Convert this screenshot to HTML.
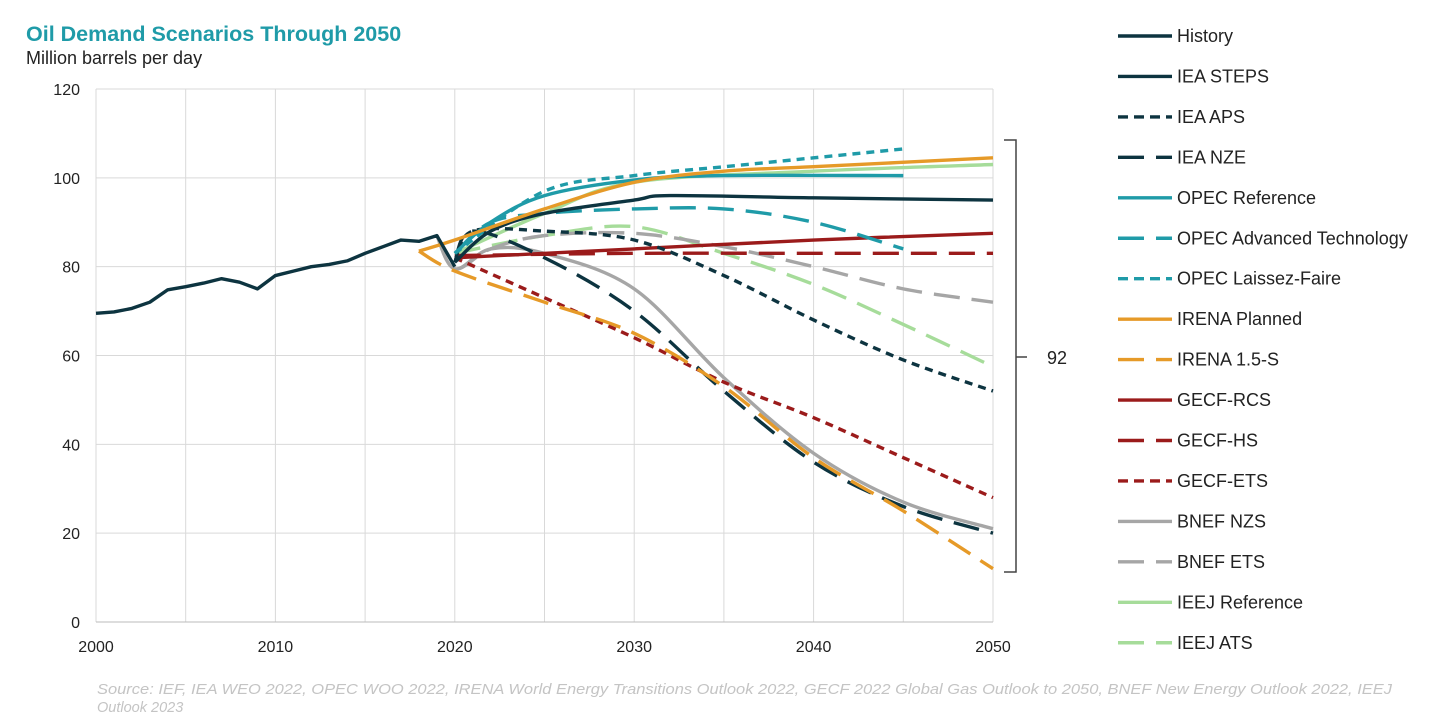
<!DOCTYPE html>
<html><head><meta charset="utf-8"><style>
body{margin:0;background:#fff;font-family:"Liberation Sans",sans-serif;}
svg{display:block}
</style></head><body>
<svg id="chart" width="1456" height="724" font-family="Liberation Sans, sans-serif">
<text x="26" y="41" font-size="21.5" font-weight="bold" fill="#1f9ba8">Oil Demand Scenarios Through 2050</text>
<text x="26" y="64" font-size="18" fill="#222">Million barrels per day</text>
<g id="grid"></g>
<g id="series"></g>
<g id="legend"></g>
<path d="M1004,140 H1016 V572 H1004 M1016,357 H1027" fill="none" stroke="#444" stroke-width="1.5"/>
<text x="1047" y="364" font-size="18" fill="#222">92</text>
<text x="97" y="694" font-size="14.5" font-style="italic" fill="#c4c4c4" textLength="1295" lengthAdjust="spacingAndGlyphs">Source: IEF, IEA WEO 2022, OPEC WOO 2022, IRENA World Energy Transitions Outlook 2022, GECF 2022 Global Gas Outlook to 2050, BNEF New Energy Outlook 2022, IEEJ</text>
<text x="97" y="712" font-size="14.5" font-style="italic" fill="#c4c4c4">Outlook 2023</text>
</svg>
<script>
const xTicks=[2000,2010,2020,2030,2040,2050];
const yTicks=[0,20,40,60,80,100,120];
const historyYears=[2000,2001,2002,2003,2004,2005,2006,2007,2008,2009,2010,2011,2012,2013,2014,2015,2016,2017,2018,2019,2020];
const historyVals=[69.5,69.8,70.6,72,74.8,75.5,76.3,77.3,76.5,75,78,79,80,80.5,81.3,83,84.5,86,85.7,87,80];
const stepsYears=[2020,2022,2025,2030,2032,2040,2050];
const stepsVals=[81,88,92,95,96,95.5,95];
const apsYears=[2020,2021,2025,2030,2035,2040,2045,2050];
const apsVals=[81,88,88,86,78,68,59,52];
const nzeYears=[2020,2021,2025,2030,2035,2040,2045,2050];
const nzeVals=[81,88,82,70,52,36,26,20];
const opecRefYears=[2020,2022,2025,2030,2035,2045];
const opecRefVals=[83,90,96,99.5,100.5,100.5];
const opecAtYears=[2020,2022,2025,2030,2035,2040,2045];
const opecAtVals=[83,90,92,93,93,90,84];
const opecLfYears=[2020,2025,2030,2035,2040,2045];
const opecLfVals=[83,97,100.5,102.5,104.5,106.5];
const irenaPYears=[2018,2020,2025,2030,2035,2040,2050];
const irenaPVals=[83.5,86,93,99,101.5,102.5,104.5];
const irena15Years=[2018,2020,2025,2030,2035,2040,2045,2050];
const irena15Vals=[83.5,79,72,65,53,37,25,12];
const gecfRcsYears=[2020,2030,2040,2050];
const gecfRcsVals=[82,84,86,87.5];
const gecfHsYears=[2020,2030,2040,2050];
const gecfHsVals=[82.5,83,83,83];
const gecfEtsYears=[2020,2025,2030,2035,2040,2045,2050];
const gecfEtsVals=[82,73,64,54,46,37,28];
const bnefNzsYears=[2019,2020,2022,2025,2030,2035,2040,2045,2050];
const bnefNzsVals=[87,79.5,84,83,75,55,38,27,21];
const bnefEtsYears=[2019,2020,2022,2025,2030,2035,2040,2045,2050];
const bnefEtsVals=[87,79.5,84,87,87.5,84.5,80,75,72];
const ieejRefYears=[2020,2025,2030,2040,2050];
const ieejRefVals=[83,92,99,101.5,103];
const ieejAtsYears=[2020,2025,2030,2035,2040,2045,2050];
const ieejAtsVals=[83,87,89,83,76,67,57.5];

const X=v=>96+(v-2000)*(993-96)/50;
const Y=v=>622-v*(622-89)/120;
const NS='http://www.w3.org/2000/svg';
function mk(t,a,p){const e=document.createElementNS(NS,t);for(const k in a)e.setAttribute(k,a[k]);p.appendChild(e);return e;}
const grid=document.getElementById('grid');
for(let yr=2000;yr<=2050;yr+=5){const l=mk('line',{x1:X(yr),x2:X(yr),y1:Y(0),y2:Y(120),stroke:'#d9d9d9','stroke-width':1},grid);

}
yTicks.forEach(v=>{const l=mk('line',{x1:X(2000),x2:X(2050),y1:Y(v),y2:Y(v),stroke:v===0?'#bbb':'#d9d9d9','stroke-width':1},grid);


const t=mk('text',{x:80,y:Y(v)+6,'font-size':16,'text-anchor':'end',fill:'#222'},grid);t.textContent=v;

});
xTicks.forEach(v=>{const t=mk('text',{x:X(v),y:652,'font-size':16,'text-anchor':'middle',fill:'#222'},grid);t.textContent=v;

});
const DK='#0d3440',TL='#1f9ba8',OR='#e69a28',RD='#9b1b1b',GR='#a6a6a6',LG='#a6dc9a';
const D1='8 6',D2='26 12';
const series=[
['History',historyYears,historyVals,DK,null],
['IEA STEPS',stepsYears,stepsVals,DK,null],
['IEA APS',apsYears,apsVals,DK,D1],
['IEA NZE',nzeYears,nzeVals,DK,D2],
['OPEC Reference',opecRefYears,opecRefVals,TL,null],
['OPEC Advanced Technology',opecAtYears,opecAtVals,TL,D2],
['OPEC Laissez-Faire',opecLfYears,opecLfVals,TL,D1],
['IRENA Planned',irenaPYears,irenaPVals,OR,null],
['IRENA 1.5-S',irena15Years,irena15Vals,OR,D2],
['GECF-RCS',gecfRcsYears,gecfRcsVals,RD,null],
['GECF-HS',gecfHsYears,gecfHsVals,RD,D2],
['GECF-ETS',gecfEtsYears,gecfEtsVals,RD,D1],
['BNEF NZS',bnefNzsYears,bnefNzsVals,GR,null],
['BNEF ETS',bnefEtsYears,bnefEtsVals,GR,D2],
['IEEJ Reference',ieejRefYears,ieejRefVals,LG,null],
['IEEJ ATS',ieejAtsYears,ieejAtsVals,LG,D2]];
function path(xs,ys,smooth){const p=xs.map((x,i)=>[X(x),Y(ys[i])]);
if(!smooth)return 'M'+p.map(q=>q.join(',')).join('L');
let d='M'+p[0];for(let i=0;i<p.length-1;i++){const a=p[i-1]||p[i],b=p[i],c=p[i+1],e=p[i+2]||c;
d+=`C${b[0]+(c[0]-a[0])/6},${b[1]+(c[1]-a[1])/6} ${c[0]-(e[0]-b[0])/6},${c[1]-(e[1]-b[1])/6} ${c[0]},${c[1]}`;}return d;}
const sg=document.getElementById('series'),lg=document.getElementById('legend');
const order=[14,15,12,13,9,10,11,5,3,2,8,1,4,6,7,0];
order.forEach(i=>{const s=series[i];
const el=mk('path',{d:path(s[1],s[2],i!==0),fill:'none',stroke:s[3],'stroke-width':3.4,'stroke-linejoin':'round'},sg);
if(s[4])el.setAttribute('stroke-dasharray',s[4]);

});
series.forEach((s,i)=>{const y=36+i*40.45;
const g=mk('g',{},lg);


const l=mk('line',{x1:1118,x2:1172,y1:y,y2:y,stroke:s[3],'stroke-width':3.4},g);
if(s[4])l.setAttribute('stroke-dasharray',s[4]===D1?'10 6':'26 12');
const t=mk('text',{x:1177,y:y+6,'font-size':18,fill:'#222'},g);t.textContent=s[0];});
</script>
</body></html>
